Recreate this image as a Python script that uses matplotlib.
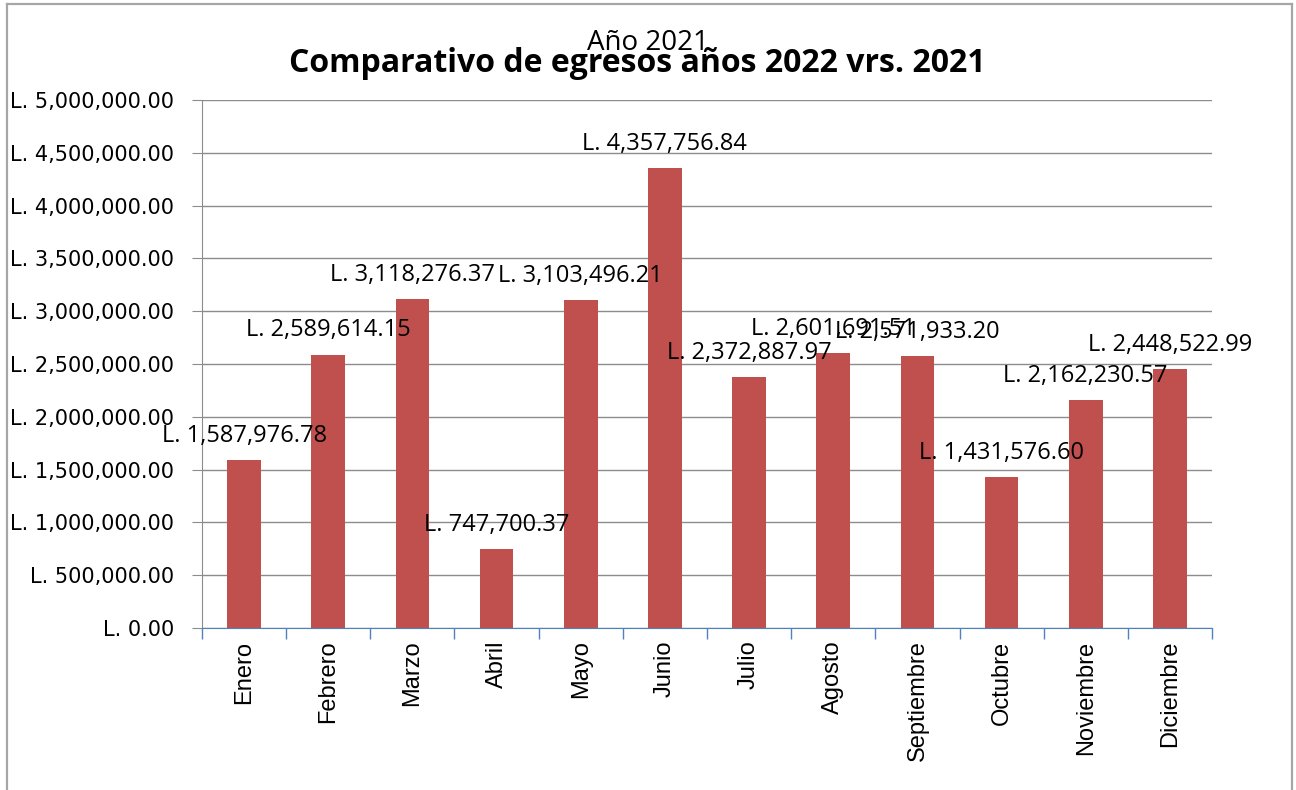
import matplotlib.pyplot as plt
from matplotlib.ticker import FuncFormatter, FixedLocator
from matplotlib.lines import Line2D

# datos
meses = ['Enero', 'Febrero', 'Marzo', 'Abril', 'Mayo', 'Junio', 'Julio',
         'Agosto', 'Septiembre', 'Octubre', 'Noviembre', 'Diciembre']
egresos_2021 = [1587976.78, 2589614.15, 3118276.37, 747700.37, 3103496.21,
                4357756.84, 2372887.97, 2601691.51, 2571933.20, 1431576.60,
                2162230.57, 2448522.99]

fig = plt.figure(figsize=(12.96, 7.9), dpi=100)
ax = fig.add_axes([202/1296, 1-628/790, 1010/1296, 528/790])

x = list(range(len(meses)))
bars = ax.bar(x, egresos_2021, width=0.4, color='#C0504D', zorder=3)

ax.set_xlim(-0.5, len(meses) - 0.5)
ax.set_ylim(0, 5000000)
ax.set_yticks([i*500000 for i in range(11)])
ax.yaxis.set_major_formatter(FuncFormatter(lambda v, p: 'L. {:,.2f}'.format(v)))
ax.yaxis.grid(True, color='#8C8C8C', lw=1, zorder=0)
ax.tick_params(axis='y', labelsize=15, length=7, color='#8C8C8C', pad=13)
for t in ax.get_yticklabels():
    t.set_family('DejaVu Sans')

# ticks del eje x en los limites de categoria
ax.xaxis.set_major_locator(FixedLocator([i - 0.5 for i in range(len(meses) + 1)]))
ax.xaxis.set_major_formatter(FuncFormatter(lambda v, p: ''))
ax.xaxis.set_minor_locator(FixedLocator(x))
ax.set_xticklabels(meses, minor=True, rotation=90, fontsize=17,
                   family='Liberation Sans')
ax.tick_params(axis='x', which='major', length=8, color='#4F81BD', width=1)
ax.tick_params(axis='x', which='minor', length=0, pad=9)

for s in ['top', 'right']:
    ax.spines[s].set_visible(False)
ax.spines['left'].set_color('#8C8C8C')
ax.spines['bottom'].set_color('#4F81BD')
ax.spines['bottom'].set_zorder(4)

for xi, v in zip(x, egresos_2021):
    ax.annotate('L. {:,.2f}'.format(v), (xi, v), xytext=(0, 13),
                textcoords='offset points', ha='center', va='baseline',
                fontsize=17, family='Open Sans', zorder=5)

fig.text(637/1296, 1-63/790, 'Comparativo de egresos años 2022 vrs. 2021',
         ha='center', va='center', fontsize=23, fontweight='bold', family='Open Sans')
fig.text(648/1296, 1-43/790, 'Año 2021', ha='center', va='center',
         fontsize=20, family='Open Sans')

# borde del grafico
bc = '#A6A6A6'
fig.add_artist(Line2D([7/1296, 7/1296], [0, 1-4/790], color=bc, lw=1.6, transform=fig.transFigure))
fig.add_artist(Line2D([7/1296, 1292/1296], [1-4/790, 1-4/790], color=bc, lw=1.6, transform=fig.transFigure))
fig.add_artist(Line2D([1292/1296, 1292/1296], [0, 1-4/790], color=bc, lw=1.6, transform=fig.transFigure))

fig.savefig('out.png', dpi=100)
